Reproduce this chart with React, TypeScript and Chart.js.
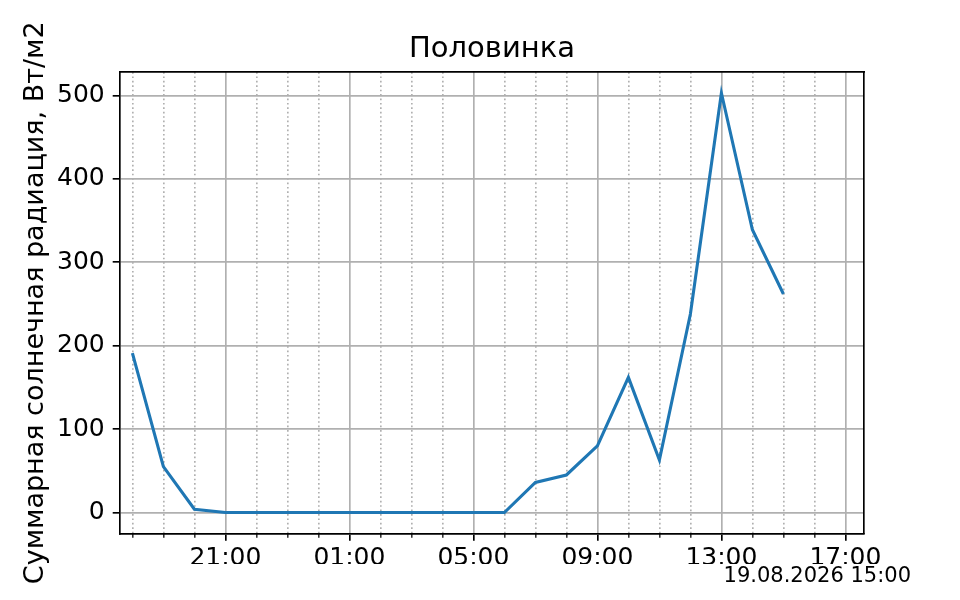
import { useEffect, useRef } from 'react';
import { Chart, registerables } from 'chart.js';

Chart.register(...registerables);

const chartTitle = 'Половинка';
const yAxisLabel = 'Суммарная солнечная радиация, Вт/м2';
const stampText = '19.08.2026 15:00';

const times = [
  '18:00', '19:00', '20:00', '21:00', '22:00', '23:00',
  '00:00', '01:00', '02:00', '03:00', '04:00', '05:00',
  '06:00', '07:00', '08:00', '09:00', '10:00', '11:00',
  '12:00', '13:00', '14:00', '15:00',
];
const radiation = [
  191, 55, 4, 0, 0, 0,
  0, 0, 0, 0, 0, 0,
  0, 36, 45, 80, 162, 63,
  238, 503, 339, 262,
];
const xTickLabels = ['21:00', '01:00', '05:00', '09:00', '13:00', '17:00'];
const yTicks = [0, 100, 200, 300, 400, 500];

const X_MIN = -0.4;
const X_MAX = 23.6;
const Y_MIN = -25.15;
const Y_MAX = 528.15;

const hoursFromStart = (label: string) =>
  (parseInt(label, 10) - parseInt(times[0], 10) + 24) % 24;

const FONT = "'DejaVu Sans'";
const GRID = '#b0b0b0';
const LW = 1.67;

export default function App() {
  const ref = useRef<HTMLCanvasElement | null>(null);

  useEffect(() => {
    if (!ref.current) return;
    Chart.defaults.font.family = FONT;
    Chart.defaults.color = '#000';

    const majorPositions = xTickLabels.map(hoursFromStart);
    const minorPositions: number[] = [];
    for (let h = Math.ceil(X_MIN); h <= Math.floor(X_MAX); h++) {
      if (!majorPositions.includes(h)) minorPositions.push(h);
    }

    const points = times.map((t, i) => ({ x: hoursFromStart(t), y: radiation[i] }));

    const chart = new Chart(ref.current, {
      type: 'line',
      data: {
        datasets: [
          {
            data: points,
            borderColor: '#1f77b4',
            borderWidth: 3.1,
            pointRadius: 0,
            pointHoverRadius: 0,
            fill: false,
            tension: 0,
            xAxisID: 'x',
            yAxisID: 'y',
          },
        ],
      },
      options: {
        animation: false,
        responsive: false,
        events: [],
        layout: { padding: { left: 0, right: 49, top: 0, bottom: 0 } },
        plugins: {
          legend: { display: false },
          tooltip: { enabled: false },
          title: {
            display: true,
            text: chartTitle,
            fullSize: false,
            color: '#000',
            font: { family: FONT, size: 29, weight: 'normal' },
            padding: { top: 31.9, bottom: 5.3 },
          },
          subtitle: {
            display: true,
            text: stampText,
            position: 'bottom',
            align: 'end',
            fullSize: true,
            color: '#000',
            font: { family: FONT, size: 21, weight: 'normal' },
            padding: { top: 0, bottom: 10.7 },
          },
        },
        scales: {
          x: {
            type: 'linear',
            position: 'bottom',
            weight: 1,
            min: X_MIN,
            max: X_MAX,
            afterBuildTicks: (s: any) => {
              s.ticks = majorPositions.map((v) => ({ value: v }));
            },
            afterFit: (s: any) => {
              s.height = 30.6;
            },
            ticks: {
              autoSkip: false,
              maxRotation: 0,
              minRotation: 0,
              padding: 2.5,
              color: '#000',
              font: { family: FONT, size: 25 },
              callback: (_v: any, i: number) => xTickLabels[i],
            },
            grid: {
              color: GRID,
              lineWidth: LW,
              tickColor: '#000',
              tickLength: 7.3,
              tickWidth: LW,
            },
            border: { color: '#000', width: LW },
          },
          xMinor: {
            type: 'linear',
            position: 'bottom',
            weight: 0,
            min: X_MIN,
            max: X_MAX,
            afterBuildTicks: (s: any) => {
              s.ticks = minorPositions.map((v) => ({ value: v }));
            },
            afterFit: (s: any) => {
              s.height = 0;
            },
            ticks: { display: false },
            grid: {
              color: GRID,
              lineWidth: LW,
              tickColor: '#000',
              tickLength: 4.2,
              tickWidth: 1.25,
            },
            border: { display: false, dash: [1.67, 2.75] },
          },
          xTop: {
            type: 'linear',
            position: 'top',
            min: X_MIN,
            max: X_MAX,
            afterFit: (s: any) => {
              s.height = 0;
            },
            ticks: { display: false },
            grid: { display: false },
            border: { color: '#000', width: LW },
          },
          y: {
            type: 'linear',
            position: 'left',
            min: Y_MIN,
            max: Y_MAX,
            afterBuildTicks: (s: any) => {
              s.ticks = yTicks.map((v) => ({ value: v }));
            },
            afterFit: (s: any) => {
              s.width = 120;
            },
            ticks: {
              padding: 8,
              color: '#000',
              font: { family: FONT, size: 25 },
            },
            grid: {
              color: GRID,
              lineWidth: LW,
              tickColor: '#000',
              tickLength: 7.3,
              tickWidth: LW,
            },
            border: { color: '#000', width: LW },
            title: {
              display: true,
              text: yAxisLabel,
              color: '#000',
              font: { family: FONT, size: 27 },
              padding: { top: 19.46, bottom: 0 },
            },
          },
          yRight: {
            type: 'linear',
            position: 'right',
            min: Y_MIN,
            max: Y_MAX,
            afterFit: (s: any) => {
              s.width = 47;
            },
            ticks: { display: false },
            grid: { display: false },
            border: { color: '#000', width: LW },
          },
        },
      } as any,
    });

    return () => chart.destroy();
  }, []);

  return (
    <div style={{ position: 'fixed', left: 0, top: 0, width: 960, height: 600, background: '#fff' }}>
      <canvas ref={ref} width={960} height={600} style={{ display: 'block' }} />
    </div>
  );
}
